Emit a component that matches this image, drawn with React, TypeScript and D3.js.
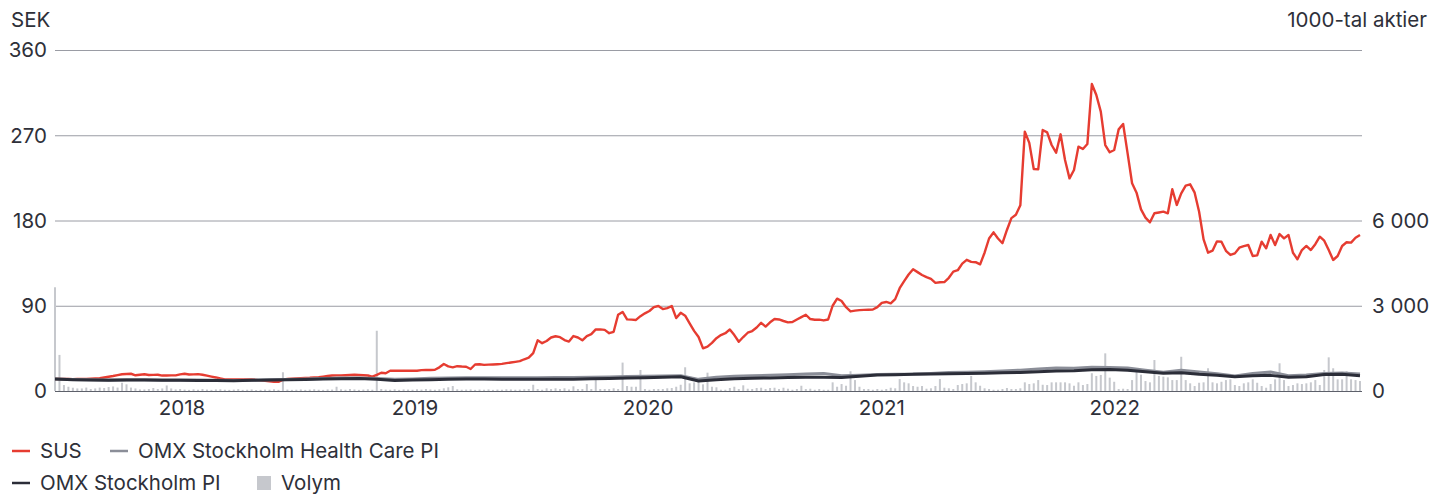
import { useEffect, useRef } from 'react'
import * as d3 from 'd3'

// Weekly series start (first plotted week)
const startDate = new Date(2017, 5, 16)

// SUS closing price, SEK, one value per week
const susValues = [
  12.7, 12.7, 12.6, 12.6, 12.5, 12.6, 12.7, 12.8, 13.0, 13.2,
  13.4, 14.2, 15.0, 15.8, 16.8, 17.7, 18.0, 18.2, 16.6, 17.2,
  17.7, 16.9, 17.0, 17.2, 16.3, 16.4, 16.5, 16.5, 17.5, 18.2,
  17.4, 17.6, 17.8, 17.2, 16.2, 15.2, 14.3, 13.2, 12.3, 12.2,
  12.3, 12.3, 12.2, 12.3, 12.2, 11.8, 11.2, 10.7, 10.1, 9.6,
  9.6, 12.0, 12.6, 13.0, 13.3, 13.6, 13.8, 14.0, 14.4, 14.6,
  15.2, 15.8, 16.4, 16.5, 16.5, 16.7, 16.9, 17.1, 16.9, 16.6,
  16.4, 15.2, 17.0, 19.3, 18.8, 21.4, 21.3, 21.3, 21.3, 21.3,
  21.4, 21.4, 22.0, 22.2, 22.2, 22.5, 25.0, 28.5, 26.0, 25.0,
  26.2, 25.8, 25.6, 23.2, 28.0, 28.2, 27.6, 27.8, 28.0, 28.3,
  28.6, 29.4, 30.1, 30.8, 31.5, 33.5, 35.2, 40.0, 53.5, 50.5,
  52.8, 56.5, 57.8, 56.8, 53.8, 52.2, 58.0, 56.5, 53.5, 58.0,
  60.0, 65.0, 65.0, 64.5, 61.0, 62.5, 80.5, 83.5, 75.6, 75.3,
  75.0, 79.0, 82.0, 84.5, 88.5, 89.7, 86.5, 87.5, 89.7, 77.0,
  82.5, 79.5, 71.5, 63.5, 57.0, 45.0, 46.8, 50.8, 55.8, 59.0,
  61.0, 65.0, 59.0, 52.0, 57.0, 61.5, 63.3, 67.0, 72.0, 68.0,
  72.5, 76.0, 75.5, 73.9, 72.5, 72.8, 75.5, 78.0, 80.5, 76.0,
  75.2, 75.4, 74.5, 75.5, 90.0, 97.5, 95.0, 88.5, 84.0, 84.8,
  85.4, 85.6, 85.8, 86.0, 88.5, 93.0, 94.0, 92.5, 97.0, 108.5,
  116.0, 123.0, 128.5, 125.5, 122.5, 120.2, 118.3, 114.2, 114.8, 115.0,
  119.5, 126.0, 127.5, 134.5, 138.5, 136.3, 136.0, 133.7, 146.0, 161.0,
  167.5, 161.0, 156.0, 170.0, 182.5, 186.0, 196.0, 273.8, 262.0, 234.4,
  234.0, 275.5, 273.0, 259.7, 251.6, 271.0, 243.9, 224.5, 233.3, 258.0,
  255.5, 260.8, 324.1, 312.5, 294.9, 259.7, 252.0, 254.4, 276.2, 281.9,
  250.9, 219.3, 209.4, 191.8, 183.0, 178.1, 187.6, 188.5, 189.3, 187.6,
  213.0, 196.4, 208.7, 216.8, 218.2, 209.4, 189.3, 160.1, 146.0, 148.1,
  158.0, 157.6, 148.0, 143.6, 145.3, 151.3, 153.0, 154.1, 142.5, 143.2,
  157.6, 150.6, 164.7, 154.1, 165.7, 161.1, 164.7, 146.0, 139.0, 148.8,
  153.1, 148.8, 155.0, 162.9, 158.7, 148.8, 138.3, 142.5, 153.1, 157.0,
  156.6, 161.8, 164.7,
]

// Traded volume, 1000-tal aktier, one value per week
const volumeValues = [
  3650, 1270, 210, 150, 115, 90, 90, 120, 70, 90,
  120, 105, 140, 160, 120, 290, 235, 120, 90, 55,
  55, 70, 105, 70, 90, 195, 90, 55, 70, 50,
  40, 60, 45, 70, 50, 40, 55, 60, 45, 40,
  50, 65, 40, 45, 55, 35, 40, 50, 45, 60,
  40, 660, 50, 40, 45, 55, 40, 50, 60, 45,
  40, 55, 50, 150, 60, 45, 70, 55, 40, 50,
  60, 45, 2120, 70, 50, 45, 60, 40, 55, 50,
  45, 60, 50, 70, 55, 45, 60, 95, 130, 175,
  60, 45, 50, 55, 40, 50, 45, 55, 40, 50,
  45, 60, 55, 45, 50, 60, 70, 220, 70, 45,
  95, 70, 95, 70, 95, 55, 165, 70, 70, 245,
  70, 385, 70, 70, 70, 95, 70, 1000, 175, 150,
  150, 740, 70, 45, 70, 70, 70, 95, 105, 150,
  220, 835, 270, 305, 445, 235, 645, 150, 130, 45,
  45, 105, 150, 70, 200, 80, 70, 105, 115, 70,
  105, 115, 70, 115, 80, 45, 70, 185, 70, 80,
  45, 70, 45, 45, 305, 150, 245, 185, 695, 385,
  150, 70, 70, 45, 70, 45, 70, 115, 95, 420,
  305, 270, 175, 150, 175, 80, 95, 175, 420, 115,
  95, 70, 210, 245, 270, 530, 305, 185, 95, 70,
  45, 45, 70, 105, 70, 70, 95, 305, 245, 270,
  385, 220, 210, 305, 305, 305, 305, 270, 185, 305,
  210, 245, 625, 530, 565, 1325, 470, 325, 70, 80,
  70, 385, 695, 575, 350, 305, 1090, 530, 505, 480,
  385, 385, 1205, 385, 270, 175, 290, 305, 800, 305,
  270, 325, 385, 410, 210, 175, 270, 305, 410, 290,
  175, 115, 245, 410, 975, 385, 175, 210, 270, 245,
  270, 305, 385, 210, 740, 1185, 800, 410, 410, 695,
  410, 385, 350,
]

// Index series rebased to SUS, one value every fourth week
const healthCareValues = [
  12.7, 12.2, 11.9, 11.7, 11.8, 11.8, 11.5, 11.6, 11.6, 11.4,
  11.2, 11.4, 11.8, 12.1, 12.6, 13.2, 13.6, 13.8, 13.2, 12.3,
  12.8, 13.4, 13.7, 13.9, 14.0, 14.0, 14.0, 14.1, 14.2, 14.3,
  14.6, 14.9, 15.3, 15.6, 15.9, 16.2, 12.3, 14.6, 15.6, 16.2,
  16.6, 17.2, 18.0, 18.6, 16.0, 16.6, 17.5, 17.8, 17.9, 18.6,
  19.6, 19.8, 20.4, 21.2, 22.0, 23.2, 24.2, 23.9, 25.0, 24.8,
  24.4, 22.0, 19.8, 22.0, 20.0, 18.2, 15.8, 18.4, 20.0, 16.2,
  16.8, 18.5, 19.0, 17.9,
]

const omxPiValues = [
  12.7, 12.0, 11.6, 11.4, 11.6, 11.5, 11.3, 11.4, 11.2, 11.0,
  10.9, 11.3, 11.6, 11.8, 12.2, 12.6, 13.0, 13.2, 12.4, 11.2,
  11.5, 12.0, 12.4, 12.6, 12.7, 12.5, 12.4, 12.3, 12.3, 12.5,
  12.9, 13.3, 13.8, 14.1, 14.6, 15.1, 10.6, 11.8, 12.9, 13.4,
  13.8, 14.2, 14.4, 14.4, 14.2, 15.6, 16.8, 17.2, 17.6, 18.0,
  18.3, 18.4, 18.7, 19.2, 19.6, 20.3, 21.2, 21.4, 22.4, 22.6,
  22.0, 20.2, 18.8, 19.3, 17.6, 16.6, 15.1, 16.2, 16.5, 14.6,
  15.0, 17.4, 17.6, 16.2,
]

const yearTicks = [2018, 2019, 2020, 2021, 2022]
const priceTicks = [0, 90, 180, 270, 360]
const volumeTicks = [0, 3000, 6000]

const legendItems = [
  { label: 'SUS', color: '#e63c31', kind: 'line', row: 0, x: 12 },
  { label: 'OMX Stockholm Health Care PI', color: '#8b8e98', kind: 'line', row: 0, x: 110 },
  { label: 'OMX Stockholm PI', color: '#2b2d38', kind: 'line', row: 1, x: 12 },
  { label: 'Volym', color: '#c6c8cd', kind: 'box', row: 1, x: 257 },
]

const width = 1430
const height = 495
const margin = { top: 50, right: 70, bottom: 104, left: 55 }
const font = 'Inter, "Noto Sans", sans-serif'
const textColor = '#2e3039'

export default function App() {
  const svgRef = useRef<SVGSVGElement>(null)

  useEffect(() => {
    if (!svgRef.current) return
    const svg = d3.select(svgRef.current)
    svg.selectAll('*').remove()

    const weekDates = susValues.map((_, i) => d3.timeDay.offset(startDate, 7 * i))
    const indexDates = healthCareValues.map((_, i) => weekDates[i * 4])

    const x = d3
      .scaleTime()
      .domain([weekDates[0], weekDates[weekDates.length - 1]])
      .range([margin.left, width - margin.right])

    const y = d3
      .scaleLinear()
      .domain([0, 360])
      .range([height - margin.bottom, margin.top])

    const yVol = d3
      .scaleLinear()
      .domain([0, 12000])
      .range([height - margin.bottom, margin.top])

    const fmt = d3.formatLocale({
      decimal: ',',
      thousands: '\u00a0',
      grouping: [3],
      currency: ['', ''],
    }).format(',')

    const gridRight = width - margin.right + 2

    // gridlines
    svg
      .append('g')
      .selectAll('line')
      .data(priceTicks)
      .enter()
      .append('line')
      .attr('x1', margin.left)
      .attr('x2', gridRight)
      .attr('y1', d => y(d) + 0.5)
      .attr('y2', d => y(d) + 0.5)
      .attr('stroke', d => (d === 0 ? '#5d606a' : '#9a9ca4'))
      .attr('stroke-width', 1)

    // volume bars
    svg
      .append('g')
      .selectAll('rect')
      .data(volumeValues)
      .enter()
      .append('rect')
      .attr('x', (_, i) => x(weekDates[i]) - 1)
      .attr('y', d => yVol(d))
      .attr('width', 2)
      .attr('height', d => yVol(0) - yVol(d))
      .attr('fill', '#c6c8cd')

    const line = d3
      .line<number>()
      .curve(d3.curveLinear)

    const drawLine = (values: number[], dates: Date[], color: string, w: number) => {
      svg
        .append('path')
        .attr('d', line.x((_, i) => x(dates[i])).y(d => y(d))(values))
        .attr('fill', 'none')
        .attr('stroke', color)
        .attr('stroke-width', w)
        .attr('stroke-linejoin', 'round')
    }

    drawLine(susValues, weekDates, '#e63c31', 2.4)
    drawLine(healthCareValues, indexDates, '#8b8e98', 3)
    drawLine(omxPiValues, indexDates, '#2b2d38', 3)

    // left axis labels
    svg
      .append('g')
      .selectAll('text')
      .data(priceTicks)
      .enter()
      .append('text')
      .attr('x', 47)
      .attr('y', d => y(d))
      .attr('dy', '0.36em')
      .attr('text-anchor', 'end')
      .text(d => String(d))

    // right axis labels
    svg
      .append('g')
      .selectAll('text')
      .data(volumeTicks)
      .enter()
      .append('text')
      .attr('x', 1372)
      .attr('y', d => yVol(d))
      .attr('dy', '0.36em')
      .attr('text-anchor', 'start')
      .text(d => fmt(d))

    // year labels
    svg
      .append('g')
      .selectAll('text')
      .data(yearTicks)
      .enter()
      .append('text')
      .attr('x', d => x(new Date(d, 0, 1)))
      .attr('y', 408)
      .attr('dy', '0.36em')
      .attr('text-anchor', 'middle')
      .text(d => String(d))

    // axis titles
    svg.append('text').attr('x', 11).attr('y', 27).text('SEK')
    svg
      .append('text')
      .attr('x', 1427)
      .attr('y', 27)
      .attr('text-anchor', 'end')
      .text('1000-tal aktier')

    // legend
    const rowY = [451, 483]
    const legend = svg.append('g')
    legendItems.forEach(item => {
      const cy = rowY[item.row]
      if (item.kind === 'line') {
        legend
          .append('line')
          .attr('x1', item.x)
          .attr('x2', item.x + 18)
          .attr('y1', cy)
          .attr('y2', cy)
          .attr('stroke', item.color)
          .attr('stroke-width', 2.5)
      } else {
        legend
          .append('rect')
          .attr('x', item.x)
          .attr('y', cy - 7)
          .attr('width', 14)
          .attr('height', 14)
          .attr('fill', item.color)
      }
      legend
        .append('text')
        .attr('x', item.x + (item.kind === 'line' ? 28 : 24))
        .attr('y', cy)
        .attr('dy', '0.36em')
        .text(item.label)
    })

    svg
      .selectAll('text')
      .attr('font-family', font)
      .attr('font-size', 20.5)
      .attr('fill', textColor)
  }, [])

  return (
    <svg
      ref={svgRef}
      width={width}
      height={height}
      style={{ position: 'absolute', left: 0, top: 0, display: 'block', background: '#fff' }}
    />
  )
}
